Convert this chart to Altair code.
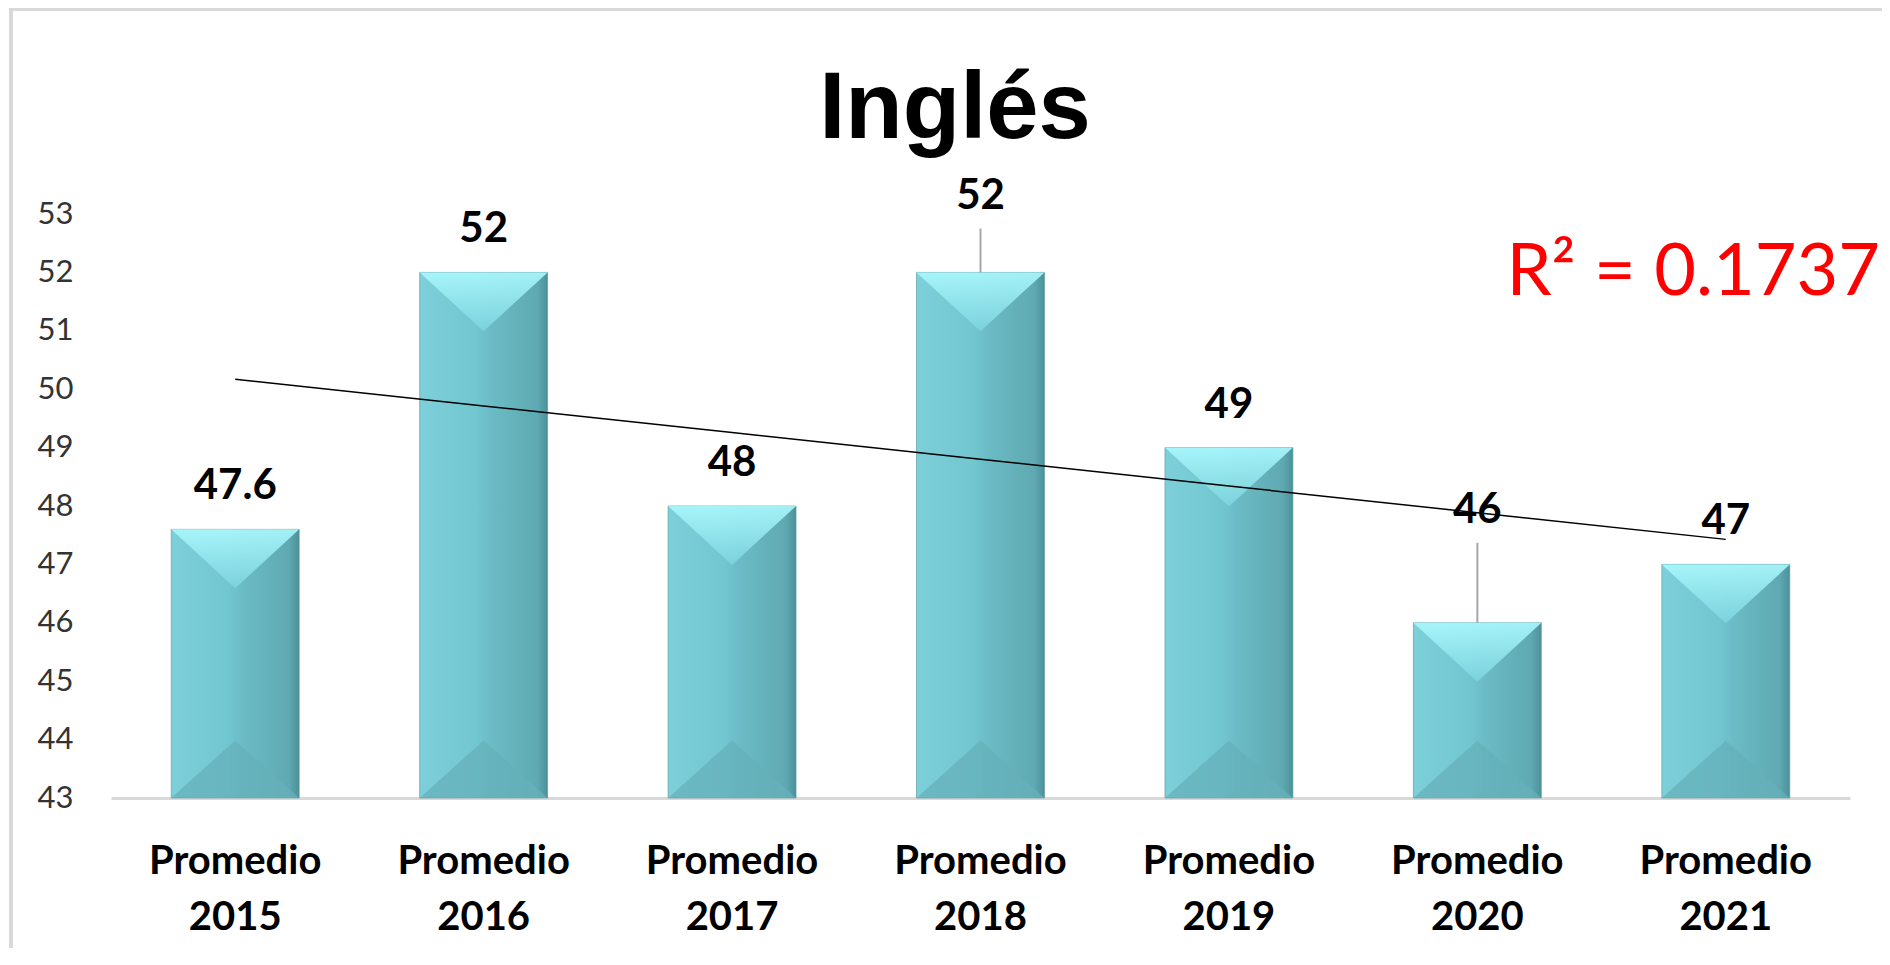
import altair as alt
import numpy as np
import pandas as pd

# ---- data ----
title_text = "Inglés"
categories = ["Promedio 2015", "Promedio 2016", "Promedio 2017", "Promedio 2018",
              "Promedio 2019", "Promedio 2020", "Promedio 2021"]
values = [47.6, 52, 48, 52, 49, 46, 47]
y_ticks = list(range(43, 54))
y_min = 43

# labels that were dragged upward in the original (in data units), with leader lines
label_lift = {"Promedio 2018": 0.58, "Promedio 2020": 1.2}

df = pd.DataFrame({"cat": categories, "value": values})
df["label_pos"] = [v + label_lift.get(c, 0.0) for c, v in zip(categories, values)]
df["base"] = y_min

# linear trend (Excel style: x = 1..n)
idx = np.arange(1, len(values) + 1)
slope, intercept = np.polyfit(idx, values, 1)
trend = slope * idx + intercept
ss_res = float(np.sum((np.array(values) - trend) ** 2))
ss_tot = float(np.sum((np.array(values) - np.mean(values)) ** 2))
r2 = 1 - ss_res / ss_tot
df["trend"] = trend

leaders = df[df["cat"].isin(label_lift.keys())].copy()
leaders["rule_top"] = leaders["label_pos"] + 0.17

W, H = 1739, 584

x_enc = alt.X("cat:N", sort=categories, title=None,
              scale=alt.Scale(paddingInner=0.485, paddingOuter=0.2425),
              axis=alt.Axis(labelExpr="split(datum.label, ' ')", labelAngle=0,
                            labelFont="Lato", labelFontSize=40, labelFontWeight="bold",
                            labelColor="#000000", labelLineHeight=56, labelPadding=43,
                            ticks=False, domainColor="#D9D9D9", domainWidth=3,
                            grid=False))
y_scale = alt.Scale(domain=[43, 53], zero=False, nice=False)
y_enc = alt.Y("value:Q", scale=y_scale, title=None,
              axis=alt.Axis(values=y_ticks, format="d", grid=False, domain=False, ticks=False,
                            labelFont="Lato", labelFontSize=31,
                            labelColor="#333333", labelPadding=38))

base = alt.Chart(df)

bar_fill = alt.LinearGradient(
    gradient="linear", x1=0, x2=1, y1=0, y2=0,
    stops=[alt.GradientStop(offset=0, color="#7DD0DA"),
           alt.GradientStop(offset=0.45, color="#72C6D0"),
           alt.GradientStop(offset=0.55, color="#6BBCC6"),
           alt.GradientStop(offset=0.92, color="#5FA9B2"),
           alt.GradientStop(offset=1, color="#4C9199")])

bars = base.mark_bar(fill=bar_fill, stroke="#4E949C", strokeWidth=1, strokeOpacity=0.6).encode(
    x=x_enc, y=y_enc, y2=alt.Y2("base:Q"))

top_fill = alt.LinearGradient(
    gradient="linear", x1=0, x2=0, y1=0, y2=1,
    stops=[alt.GradientStop(offset=0, color="#ABF9FE"),
           alt.GradientStop(offset=1, color="#7DD3DD")])

top_bevel = base.mark_point(shape="M -1 0 L 1 0 L 0 0.92 Z", size=16384, filled=True,
                            fill=top_fill, strokeWidth=0, opacity=0.9).encode(
    x=alt.X("cat:N", sort=categories), y=alt.Y("value:Q", scale=y_scale))

bottom_bevel = base.mark_point(shape="M -1 0 L 1 0 L 0 -0.9 Z", size=16384, filled=True,
                               fill="#66B0B9", strokeWidth=0, opacity=0.75).encode(
    x=alt.X("cat:N", sort=categories), y=alt.Y("base:Q", scale=y_scale))

trend_line = base.mark_line(color="#000000", strokeWidth=1.5).encode(
    x=alt.X("cat:N", sort=categories), y=alt.Y("trend:Q", scale=y_scale))

leader_rules = alt.Chart(leaders).mark_rule(color="#A6A6A6", strokeWidth=2).encode(
    x=alt.X("cat:N", sort=categories), y=alt.Y("value:Q", scale=y_scale), y2="rule_top:Q")

labels = base.mark_text(font="Lato", fontSize=42, fontWeight="bold", color="#000000",
                        baseline="alphabetic", dy=-30).encode(
    x=alt.X("cat:N", sort=categories), y=alt.Y("label_pos:Q", scale=y_scale),
    text=alt.Text("value:Q", format="~g"))

r2_text = alt.Chart(pd.DataFrame({"t": [f"R\u00b2 = {r2:.4f}"]})).mark_text(
    font="Lato", fontSize=72, color="#FF0000", align="right", baseline="alphabetic").encode(
    x=alt.value(1769), y=alt.value(81), text="t:N")

title_mark = alt.Chart(pd.DataFrame({"t": [title_text]})).mark_text(
    font="Liberation Sans", fontSize=94, fontWeight="bold", color="#000000",
    align="center", baseline="alphabetic").encode(
    x=alt.value(844), y=alt.value(-76), text="t:N")

frame_left = alt.Chart(pd.DataFrame({"a": [0]})).mark_rule(color="#D9D9D9", strokeWidth=4).encode(
    x=alt.value(-100), y=alt.value(-205), y2=alt.value(H + 160))
frame_top = alt.Chart(pd.DataFrame({"a": [0]})).mark_rule(color="#D9D9D9", strokeWidth=4).encode(
    x=alt.value(-102), x2=alt.value(W + 40), y=alt.value(-205))

chart = alt.layer(frame_left, frame_top, bars, top_bevel, bottom_bevel, trend_line,
                  leader_rules, labels, r2_text, title_mark).properties(
    width=W, height=H,
    padding={"left": 103, "top": 206, "right": 32, "bottom": 150},
    autosize=alt.AutoSizeParams(type="none"),
).configure(background="#FFFFFF").configure_view(strokeWidth=0, stroke="transparent")

chart.save("out.html", embed_options={"renderer": "svg", "actions": False})
